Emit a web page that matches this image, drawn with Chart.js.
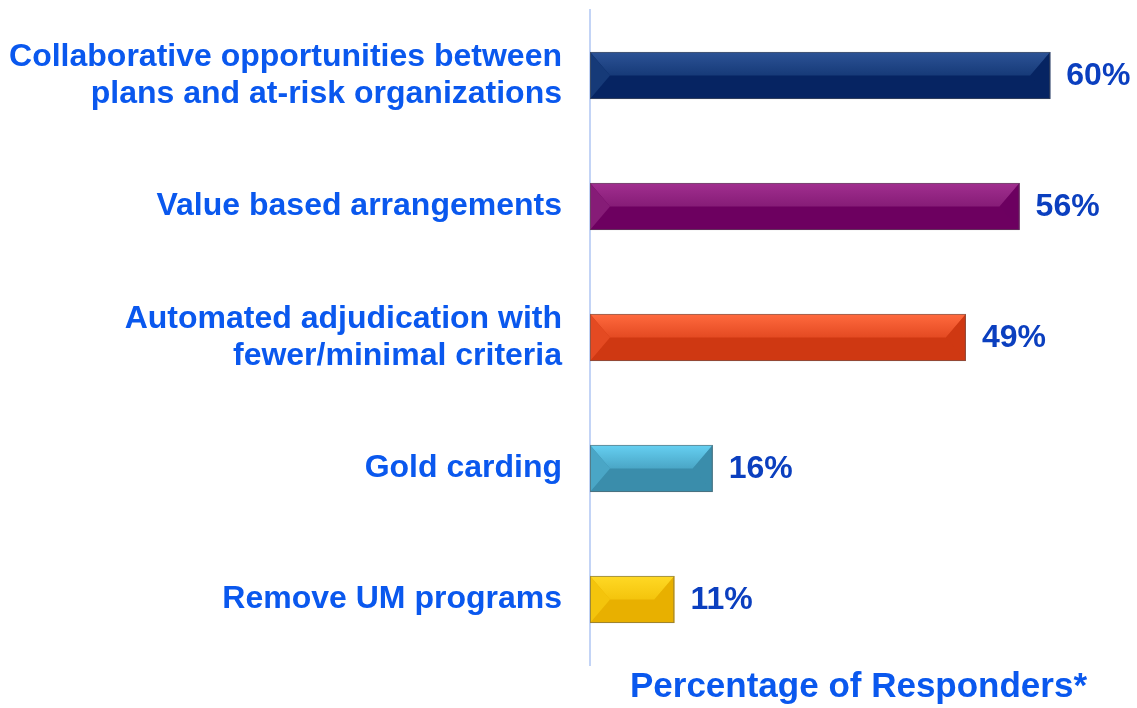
<!DOCTYPE html>
<html lang="en">
<head>
    <meta charset="UTF-8">
    <title>Percentage of Responders</title>
    <script src="https://cdn.jsdelivr.net/npm/chart.js"></script>
    <style>
        body { margin: 0; background: #fff; }
        .chart-box { width: 1137px; height: 708px; position: relative; }
    </style>
</head>
<body>
    <div class="chart-box">
        <canvas id="respChart"></canvas>
    </div>

    <script>
        const categories = [
            ['Collaborative opportunities between', 'plans and at-risk organizations'],
            'Value based arrangements',
            ['Automated adjudication with', 'fewer/minimal criteria'],
            'Gold carding',
            'Remove UM programs'
        ];
        const percentValues = [60, 56, 49, 16, 11];
        const axisTitle = 'Percentage of Responders*';

        // dark face / light top bevel / side bevel per bar
        const barDark = ['#062462', '#6d0060', '#cf3812', '#3a8dab', '#e8b000'];
        const barLight = ['#2d5396', '#a12f8f', '#ff6a3e', '#66d0f2', '#ffd925'];
        const barSide = ['#163a78', '#861c77', '#e44a22', '#4aa6c6', '#f4c40c'];

        const labelBlue = '#0a58ee';
        const valueBlue = '#0b3fbf';
        const fontFamily = '"Liberation Sans", Arial, sans-serif';

        // bevel look on each bar, drawn over the plain bars
        const bevelPlugin = {
            id: 'bevel',
            afterDatasetsDraw(chart) {
                const ctx = chart.ctx;
                chart.getDatasetMeta(0).data.forEach((bar, i) => {
                    const x0 = Math.min(bar.base, bar.x), x1 = Math.max(bar.base, bar.x);
                    const y0 = bar.y - bar.height / 2, y1 = bar.y + bar.height / 2;
                    const ym = bar.y;
                    const b = Math.min(20, (x1 - x0) / 2);
                    ctx.save();
                    const g = ctx.createLinearGradient(0, y0, 0, ym);
                    g.addColorStop(0, barLight[i]);
                    g.addColorStop(1, barSide[i]);
                    ctx.fillStyle = g;
                    ctx.beginPath();
                    ctx.moveTo(x0, y0); ctx.lineTo(x1, y0);
                    ctx.lineTo(x1 - b, ym); ctx.lineTo(x0 + b, ym);
                    ctx.closePath(); ctx.fill();

                    ctx.fillStyle = barSide[i];
                    ctx.beginPath();
                    ctx.moveTo(x0, y0); ctx.lineTo(x0 + b, ym); ctx.lineTo(x0, y1);
                    ctx.closePath(); ctx.fill();

                    ctx.fillStyle = barDark[i];
                    ctx.globalAlpha = 0.6;
                    ctx.beginPath();
                    ctx.moveTo(x1, y0); ctx.lineTo(x1 - b, ym); ctx.lineTo(x1, y1);
                    ctx.closePath(); ctx.fill();
                    ctx.globalAlpha = 1;

                    ctx.strokeStyle = 'rgba(90,90,90,0.55)';
                    ctx.lineWidth = 1;
                    ctx.strokeRect(x0 + 0.5, y0 + 0.5, x1 - x0 - 1, y1 - y0 - 1);
                    ctx.restore();
                });
            }
        };

        const valueLabels = {
            id: 'valueLabels',
            afterDatasetsDraw(chart) {
                const ctx = chart.ctx;
                ctx.save();
                ctx.font = 'bold 32px ' + fontFamily;
                ctx.fillStyle = valueBlue;
                ctx.textAlign = 'left';
                ctx.textBaseline = 'middle';
                chart.getDatasetMeta(0).data.forEach((bar, i) => {
                    ctx.fillText(percentValues[i] + '%', bar.x + 16, bar.y + 1);
                });
                ctx.restore();
            }
        };

        new Chart(document.getElementById('respChart'), {
            type: 'bar',
            data: {
                labels: categories,
                datasets: [{
                    data: percentValues,
                    backgroundColor: barDark,
                    borderWidth: 0,
                    barPercentage: 0.36,
                    categoryPercentage: 1
                }]
            },
            options: {
                indexAxis: 'y',
                responsive: true,
                maintainAspectRatio: false,
                animation: false,
                layout: { padding: { top: 10, right: 10, left: 0, bottom: 0 } },
                plugins: {
                    legend: { display: false },
                    tooltip: { enabled: false }
                },
                scales: {
                    x: {
                        min: 0,
                        max: 70,
                        grid: { display: false },
                        border: { display: false },
                        ticks: { display: false },
                        title: {
                            display: true,
                            text: axisTitle,
                            color: labelBlue,
                            font: { family: fontFamily, size: 35, weight: 'bold' },
                            padding: { top: 1, bottom: 0 }
                        },
                        afterFit(scale) { scale.height = 43; }
                    },
                    y: {
                        grid: { display: false, drawTicks: false },
                        border: { display: true, color: '#c3d4f6', width: 2 },
                        ticks: {
                            color: labelBlue,
                            padding: 28,
                            font: { family: fontFamily, size: 32, weight: 'bold', lineHeight: 1.16 }
                        },
                        afterFit(scale) {
                            scale.width = 590;
                            // labels sit at category centres, no extra room needed
                            scale.paddingTop = 0;
                            scale.paddingBottom = 0;
                        }
                    }
                }
            },
            plugins: [bevelPlugin, valueLabels]
        });
    </script>
</body>
</html>
